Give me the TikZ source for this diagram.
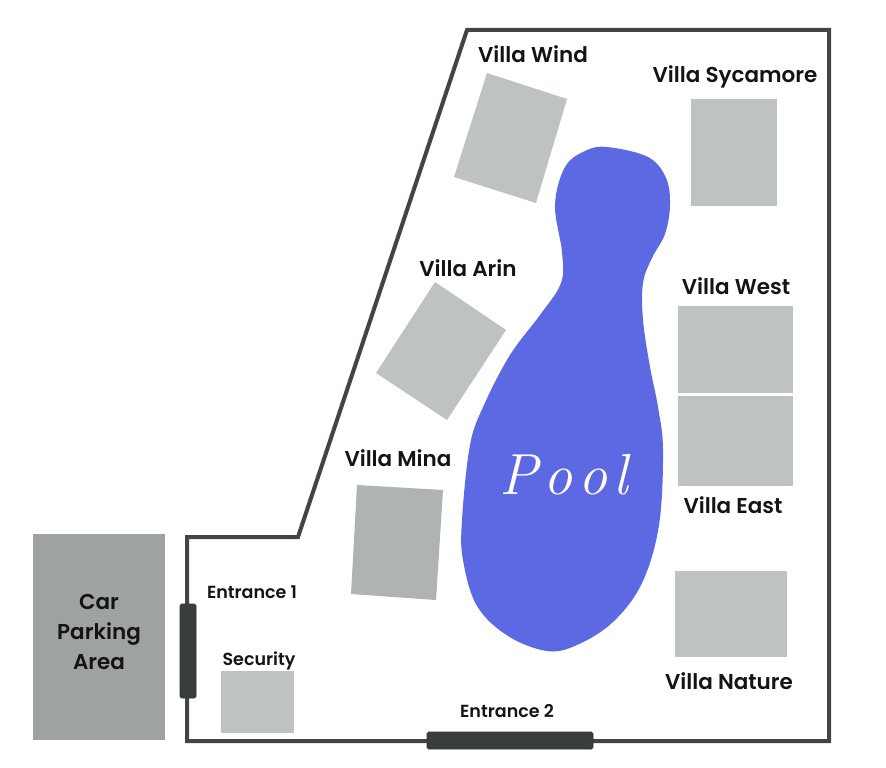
\documentclass[tikz,border=0pt]{standalone}
\usepackage{fontspec}
\newfontfamily\lab{Poppins SemiBold}
\definecolor{villagray}{HTML}{BEC2C2}
\definecolor{minagray}{HTML}{B0B3B3}
\definecolor{parkgray}{HTML}{9EA3A2}
\definecolor{poolblue}{HTML}{5D68E3}
\definecolor{bordercol}{HTML}{404546}
\definecolor{doorcol}{HTML}{3A3D3E}
\begin{document}
\begin{tikzpicture}[x=1pt,y=-1pt,
  villa/.style={fill=villagray},
  lbl/.style={anchor=base,inner sep=0pt,text=black!92,font=\lab\fontsize{21.5}{24}\selectfont},
  slbl/.style={anchor=base,inner sep=0pt,text=black!92,font=\lab\fontsize{17.5}{20}\selectfont},
  doorbox/.style={fill=doorcol,draw=black!80,line width=0.6pt,rounded corners=1.5pt}]
\useasboundingbox (0,0) rectangle (886,768);
\fill[white] (0,0) rectangle (886,768);
% car park
\fill[parkgray] (33,534) rectangle (165,740);
\node[lbl] (car) at (99,609) {Car};
\node[lbl] (parking) at (99,639) {Parking};
\node[lbl] (area) at (99,669) {Area};
% boundary
\draw[bordercol,line width=4pt,line join=miter] (467,30) -- (829,30) -- (829,741) -- (187,741) -- (187,537) -- (298,537) -- cycle;
% doors
\draw[doorbox] (180,604) rectangle (196,698);
\draw[doorbox] (427,732) rectangle (593,749);
% villas
\fill[villa] (487,73) -- (567,99) -- (536,203) -- (454,177) -- cycle;
\fill[villa] (691,99) rectangle (777,206);
\fill[villa] (435,282) -- (506,330) -- (447,420) -- (376,373) -- cycle;
\fill[minagray] (357,485) -- (443,490) -- (436,600) -- (351,594) -- cycle;
\fill[villa] (678,306) rectangle (793,393);
\fill[villa] (678,396) rectangle (793,486);
\fill[villa] (675,571) rectangle (787,657);
\fill[villa] (221,671) rectangle (294,733);
% pool
\fill[poolblue] plot[smooth cycle,tension=0.6] coordinates {
 (607,147) (648,157) (666,178) (670,205) (665,234) (652,258) (643,283) (643,320)
 (650,367) (658,407) (663,450) (659,525) (642,583) (613,622) (577,645) (547,651)
 (508,636) (477,606) (463,560) (462,520) (470,445) (484,405) (510,355) (540,315)
 (561,283) (562,252) (555,205) (565,167) (585,151)};
\node[text=white,inner sep=0pt,font=\fontsize{58}{58}\selectfont\itshape] (pool) at (564,475) {P\kern6pt o\kern6pt o\kern6pt l};
% labels
\node[lbl] (wind) at (533,63) {Villa Wind};
\node[lbl] (syc) at (735,82) {Villa Sycamore};
\node[lbl] (arin) at (468,276) {Villa Arin};
\node[lbl] (mina) at (398,466) {Villa Mina};
\node[lbl] (west) at (736,294) {Villa West};
\node[lbl] (east) at (733,513) {Villa East};
\node[lbl] (nature) at (729,689) {Villa Nature};
\node[slbl] (ent1) at (252,598) {Entrance 1};
\node[slbl] (sec) at (259,665) {Security};
\node[slbl] (ent2) at (507,717) {Entrance 2};
\end{tikzpicture}
\end{document}
